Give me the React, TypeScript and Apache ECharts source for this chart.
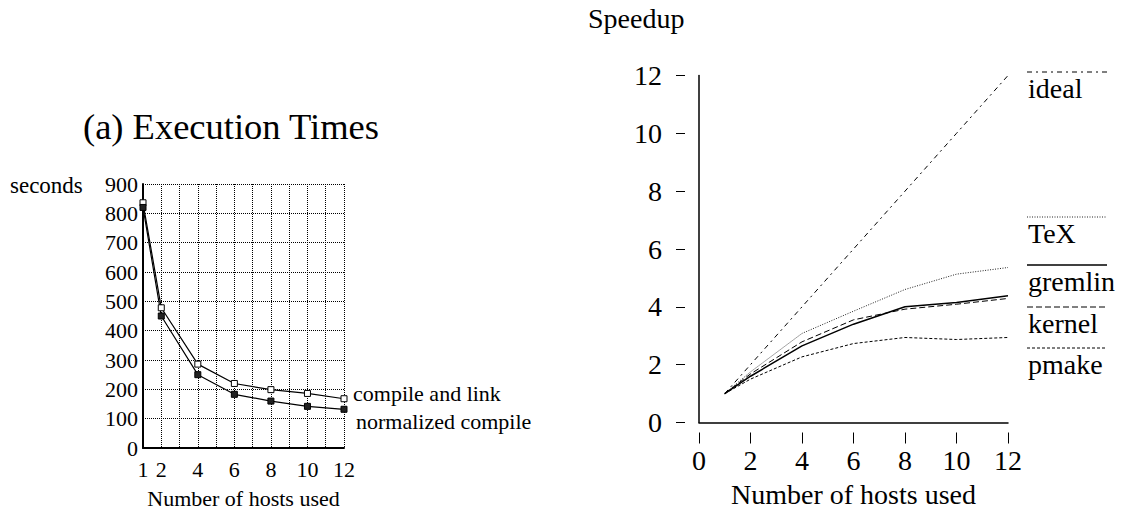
import React, { useEffect, useRef } from "react";
import * as echarts from "echarts";

// (a) Execution Times
const hostsLeft = [1, 2, 4, 6, 8, 10, 12];
const compileAndLink = [836, 478, 286, 220, 199, 186, 168];
const normalizedCompile = [820, 450, 250, 183, 160, 142, 132];

// Speedup
const hostsRight = [1, 2, 4, 6, 8, 10, 12];
const ideal = [1, 2, 4, 6, 8, 10, 12];
const tex = [1, 1.75, 3.08, 3.85, 4.6, 5.13, 5.36];
const gremlin = [1, 1.6, 2.65, 3.4, 4.0, 4.15, 4.38];
const kernel = [1, 1.68, 2.79, 3.55, 3.92, 4.09, 4.29];
const pmake = [1, 1.5, 2.27, 2.73, 2.94, 2.87, 2.94];

const FONT = "Liberation Serif";

const rightSeries = [
  { name: "ideal", data: ideal, dash: [5, 4, 2, 4], width: 1, color: "#000", legendY: 72 },
  { name: "TeX", data: tex, dash: [1, 1.5], width: 1, color: "#222", legendY: 217 },
  { name: "gremlin", data: gremlin, dash: "solid", width: 1.5, color: "#000", legendY: 265 },
  { name: "kernel", data: kernel, dash: [6, 3], width: 1, color: "#000", legendY: 307 },
  { name: "pmake", data: pmake, dash: [3, 2], width: 1, color: "#000", legendY: 348 },
];

export default function App() {
  const ref = useRef<HTMLDivElement>(null);
  useEffect(() => {
    if (!ref.current) return;
    const chart = echarts.init(ref.current, null, { renderer: "svg" });
    const pair = (xs: number[], ys: number[]) => xs.map((x, i) => [x, ys[i]]);

    const legendGraphics: any[] = [];
    rightSeries.forEach((s) => {
      legendGraphics.push({
        type: "line",
        shape: { x1: 1027, y1: s.legendY, x2: 1107, y2: s.legendY },
        style: {
          stroke: s.color,
          lineWidth: s.width,
          lineDash: s.dash === "solid" ? null : s.dash,
        },
      });
      legendGraphics.push({
        type: "text",
        x: 1028,
        y: s.legendY + 16,
        style: {
          text: s.name,
          font: `28px "${FONT}"`,
          fill: "#000",
          textAlign: "left",
          textVerticalAlign: "middle",
        },
      });
    });

    chart.setOption({
      animation: false,
      backgroundColor: "#fff",
      textStyle: { fontFamily: FONT, color: "#000" },
      graphic: [
        {
          type: "text",
          x: 231,
          y: 126,
          style: {
            text: "(a) Execution Times",
            font: `36.5px "${FONT}"`,
            fill: "#000",
            textAlign: "center",
            textVerticalAlign: "middle",
          },
        },
        {
          type: "text",
          x: 10,
          y: 185,
          style: {
            text: "seconds",
            font: `23px "${FONT}"`,
            fill: "#000",
            textAlign: "left",
            textVerticalAlign: "middle",
          },
        },
        {
          type: "text",
          x: 588,
          y: 18,
          style: {
            text: "Speedup",
            font: `28px "${FONT}"`,
            fill: "#000",
            textAlign: "left",
            textVerticalAlign: "middle",
          },
        },
        ...legendGraphics,
      ],
      grid: [
        { left: 143, top: 184, width: 201, height: 266 },
        { left: 699, top: 75.5, width: 309, height: 347 },
      ],
      xAxis: [
        {
          type: "value",
          gridIndex: 0,
          min: 1,
          max: 12,
          interval: 1,
          position: "bottom",
          axisLine: { show: true, onZero: false, lineStyle: { color: "#000", width: 2 } },
          axisTick: { show: false },
          axisLabel: {
            fontSize: 22,
            fontFamily: FONT,
            color: "#000",
            margin: 10,
            formatter: (v: number) => (v === 1 || v % 2 === 0 ? String(v) : ""),
          },
          splitLine: { show: true, lineStyle: { type: "dotted", color: "#000", width: 1 } },
          name: "Number of hosts used",
          nameLocation: "middle",
          nameGap: 39,
          nameTextStyle: { fontSize: 22, fontFamily: FONT, color: "#000" },
        },
        {
          type: "value",
          gridIndex: 1,
          min: 0,
          max: 12,
          interval: 2,
          position: "bottom",
          offset: 10,
          axisLine: { show: false, onZero: false },
          axisTick: { show: true, length: 11, lineStyle: { color: "#000", width: 1 } },
          axisLabel: { fontSize: 28, fontFamily: FONT, color: "#000", margin: 14 },
          splitLine: { show: false },
          name: "Number of hosts used",
          nameLocation: "middle",
          nameGap: 48,
          nameTextStyle: { fontSize: 28, fontFamily: FONT, color: "#000" },
        },
        {
          type: "value",
          gridIndex: 1,
          min: 0,
          max: 12,
          position: "bottom",
          axisLine: { show: true, onZero: false, lineStyle: { color: "#000", width: 1.5 } },
          axisTick: { show: false },
          axisLabel: { show: false },
          splitLine: { show: false },
        },
      ],
      yAxis: [
        {
          type: "value",
          gridIndex: 0,
          min: 0,
          max: 900,
          interval: 100,
          axisLine: { show: true, onZero: false, lineStyle: { color: "#000", width: 2 } },
          axisTick: { show: false },
          axisLabel: { fontSize: 22, fontFamily: FONT, color: "#000", margin: 5 },
          splitLine: { show: true, lineStyle: { type: "dotted", color: "#000", width: 1 } },
        },
        {
          type: "value",
          gridIndex: 1,
          min: 0,
          max: 12,
          interval: 2,
          position: "left",
          offset: 14,
          axisLine: { show: false, onZero: false },
          axisTick: { show: true, length: 9, lineStyle: { color: "#000", width: 1 } },
          axisLabel: { fontSize: 28, fontFamily: FONT, color: "#000", margin: 23 },
          splitLine: { show: false },
        },
        {
          type: "value",
          gridIndex: 1,
          min: 0,
          max: 12,
          position: "left",
          axisLine: { show: true, onZero: false, lineStyle: { color: "#000", width: 1.5 } },
          axisTick: { show: false },
          axisLabel: { show: false },
          splitLine: { show: false },
        },
      ],
      series: [
        {
          type: "line",
          name: "compile and link",
          xAxisIndex: 0,
          yAxisIndex: 0,
          data: pair(hostsLeft, compileAndLink),
          symbol: "rect",
          symbolSize: 6,
          itemStyle: { color: "#fff", borderColor: "#000", borderWidth: 1 },
          lineStyle: { color: "#000", width: 1.2 },
          endLabel: {
            show: true,
            formatter: "{a}",
            fontSize: 22,
            fontFamily: FONT,
            color: "#000",
            distance: 9,
            offset: [0, -5],
          },
        },
        {
          type: "line",
          name: "normalized compile",
          xAxisIndex: 0,
          yAxisIndex: 0,
          data: pair(hostsLeft, normalizedCompile),
          symbol: "rect",
          symbolSize: 6,
          itemStyle: { color: "#222", borderColor: "#000", borderWidth: 1 },
          lineStyle: { color: "#000", width: 1.2 },
          endLabel: {
            show: true,
            formatter: "{a}",
            fontSize: 22,
            fontFamily: FONT,
            color: "#000",
            distance: 12,
            offset: [0, 12],
          },
        },
        ...rightSeries.map((s) => ({
          type: "line",
          name: s.name,
          xAxisIndex: 1,
          yAxisIndex: 1,
          data: pair(hostsRight, s.data),
          symbol: "none",
          lineStyle: { color: s.color, width: s.width, type: s.dash },
        })),
      ],
    });
    return () => chart.dispose();
  }, []);
  return (
    <div
      ref={ref}
      style={{ position: "absolute", left: 0, top: 0, width: 1124, height: 514, background: "#fff" }}
    />
  );
}
